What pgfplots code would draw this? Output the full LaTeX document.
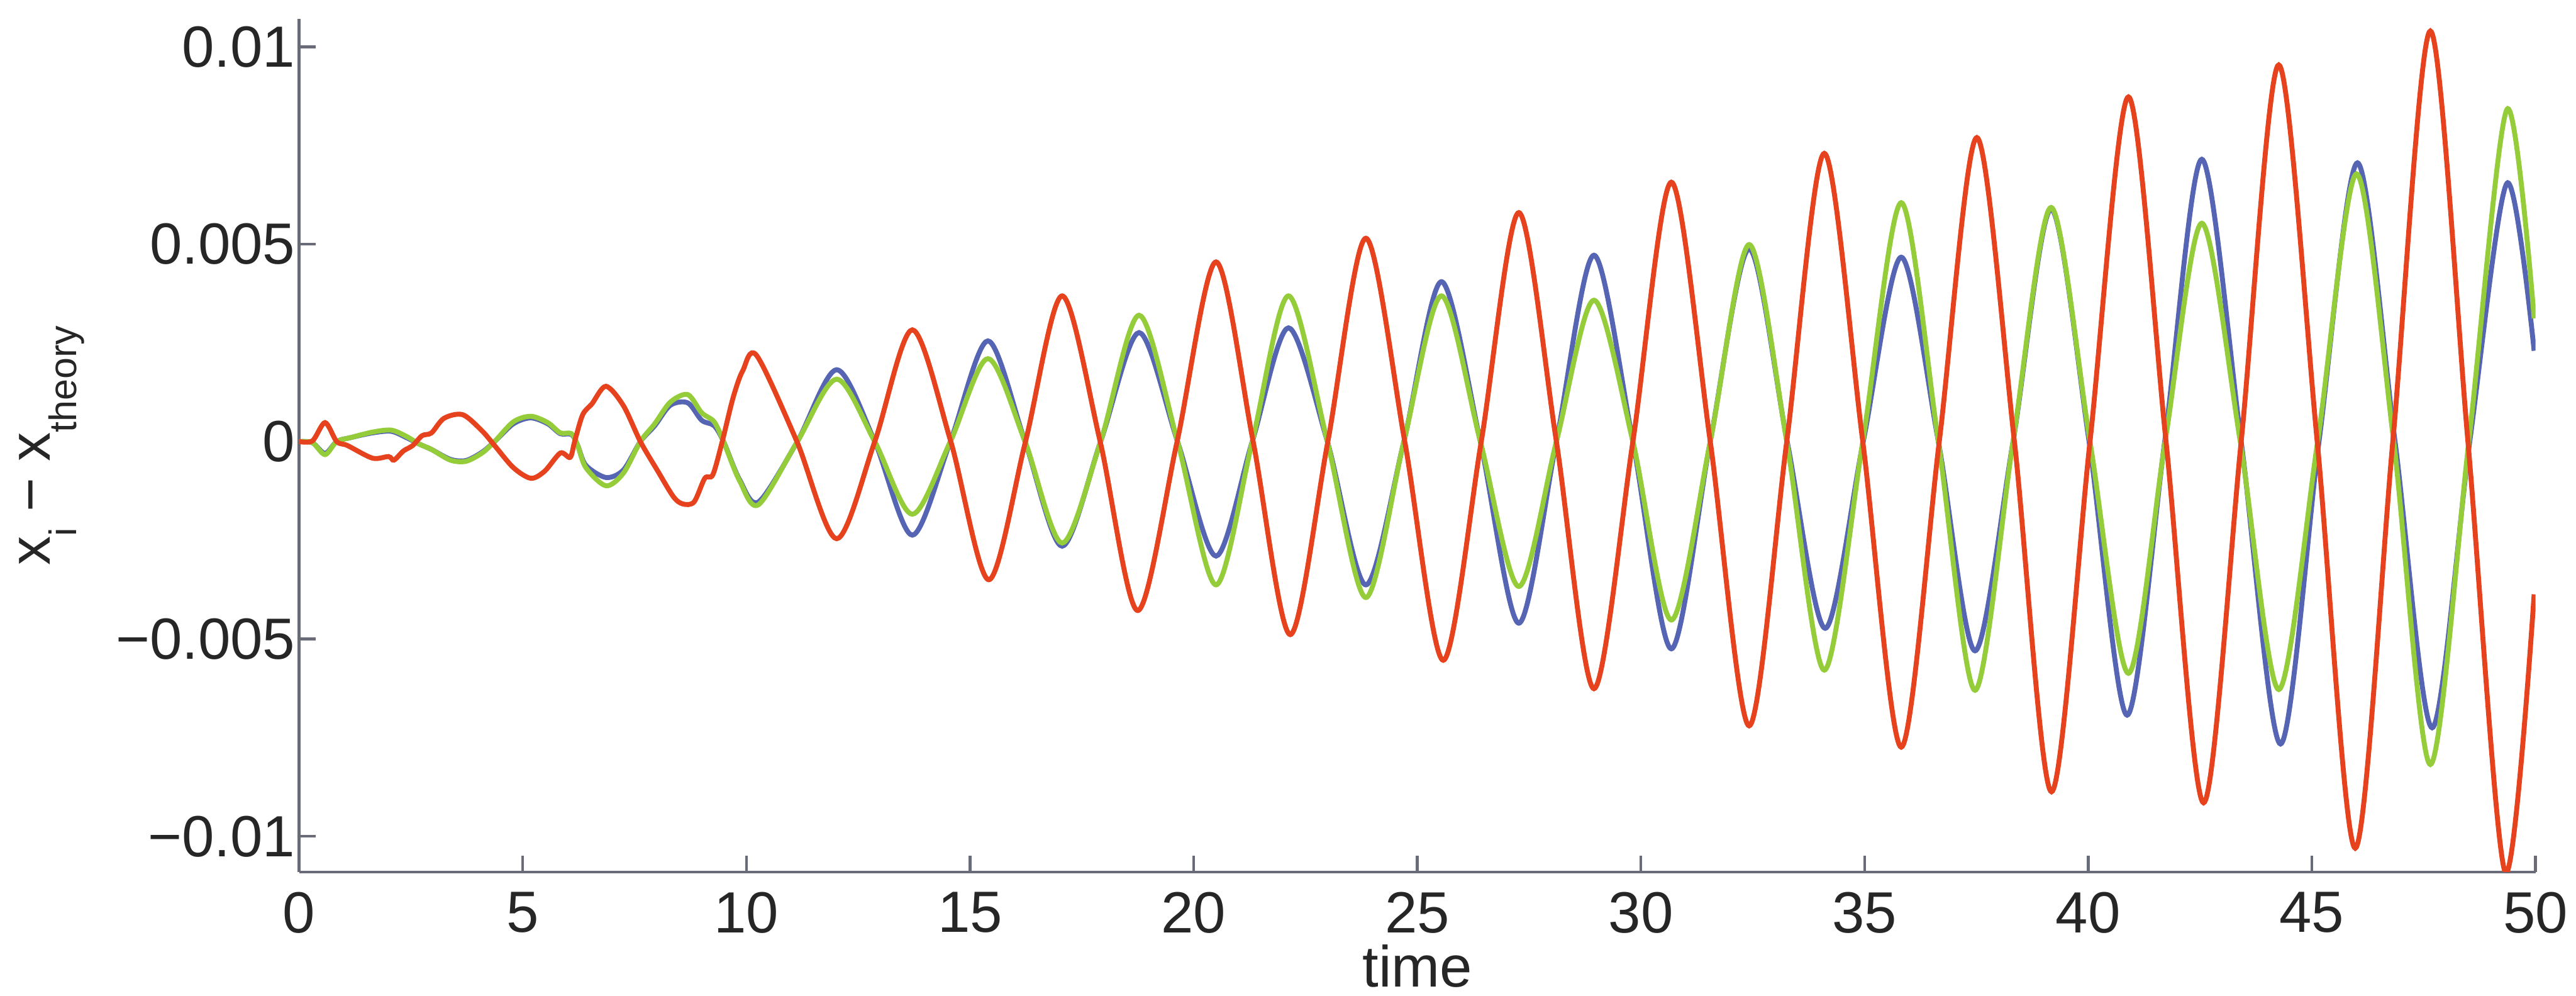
\documentclass[border=0pt]{standalone}
\usepackage{fontspec}
\setmainfont{Liberation Sans}
\usepackage{pgfplots}
\pgfplotsset{compat=1.18}
\definecolor{cred}{RGB}{230,66,30}
\definecolor{cblue}{RGB}{86,100,180}
\definecolor{cgreen}{RGB}{148,204,58}
\definecolor{axgray}{RGB}{105,108,120}
\newcommand{\sub}[1]{\raisebox{-0.45em}{\fontsize{7}{8}\selectfont #1}}
\begin{document}
\fontsize{10.6}{12.7}\selectfont
\begin{tikzpicture}
\begin{axis}[
  scale only axis, width=408pt, height=155.5pt,
  xmin=0, xmax=50, ymin=-0.0109, ymax=0.0107,
  axis lines*=left,
  axis line style={axgray, line width=0.5pt},
  tick align=inside,
  major tick length=3pt,
  tick style={axgray, line width=0.5pt},
  xtick={0,5,...,50},
  ytick={-0.01,-0.005,0,0.005,0.01},
  yticklabels={−0.01,−0.005,0,0.005,0.01},
  scaled y ticks=false,
  /pgf/number format/assume math mode=true,
  every tick label/.append style={font=\fontsize{10.6}{12.7}\selectfont, text=black!85},
  every axis label/.append style={font=\fontsize{10.6}{12.7}\selectfont, text=black!85},
  yticklabel style={xshift=3pt},
  xticklabel style={inner xsep=1.5pt},
  xlabel={time},
  ylabel={x\sub{i} − x\sub{theory}},
  xlabel style={inner ysep=1.5pt},
  xlabel shift=-3.2pt,
  ylabel shift=-1.5pt,
  every axis plot/.append style={line width=0.9pt, smooth, no markers},
  clip=true,
]
\addplot[cblue] coordinates {
(0,0) (0.3,-0.00003) (0.58,-0.0003) (0.84,0) (1.15,0.0001) (1.64,0.00022) (2.06,0.00026) (2.4,0.0001) (2.68,-0.00006) (2.96,-0.0002) (3.38,-0.00045) (3.73,-0.00048) (4.09,-0.00027) (4.37,0) (4.79,0.00045) (5.18,0.0006) (5.56,0.00045) (5.84,0.0002) (6.09,0.00018) (6.23,-0.0001) (6.41,-0.0006) (6.86,-0.00091) (7.25,-0.00072) (7.63,0) (7.95,0.0004) (8.3,0.00092) (8.69,0.00098) (9.0,0.00054) (9.28,0.0004) (9.49,0) (9.85,-0.00097) (10.27,-0.00153) (11.14,0) (12.02,0.00182) (12.87,0) (13.71,-0.00237) (14.56,0) (15.40,0.00255) (16.23,0) (17.06,-0.00265) (17.92,0) (18.78,0.00276) (19.64,0) (20.50,-0.0029) (21.31,0) (22.12,0.00288) (22.99,0) (23.85,-0.00363) (24.70,0) (25.54,0.00405) (26.41,0) (27.27,-0.0046) (28.11,0) (28.95,0.00472) (29.82,0) (30.68,-0.00525) (31.55,0) (32.42,0.00488) (33.27,0) (34.12,-0.00473) (34.97,0) (35.82,0.00467) (36.65,0) (37.47,-0.0053) (38.32,0) (39.17,0.00589) (40.02,0) (40.87,-0.00693) (41.71,0) (42.54,0.00715) (43.42,0) (44.30,-0.00766) (45.16,0) (46.02,0.00706) (46.86,0) (47.69,-0.00725) (48.53,0) (49.36,0.00654) (49.97,0.0023)
};
\addplot[cgreen] coordinates {
(0,0) (0.3,-0.00003) (0.58,-0.00033) (0.84,0) (1.15,0.0001) (1.64,0.00024) (2.06,0.00029) (2.4,0.00013) (2.68,-0.00006) (2.96,-0.0002) (3.38,-0.00047) (3.73,-0.0005) (4.09,-0.00029) (4.37,0) (4.79,0.0005) (5.18,0.00064) (5.56,0.00048) (5.84,0.00022) (6.09,0.0002) (6.23,-0.0001) (6.41,-0.00066) (6.86,-0.00112) (7.25,-0.0008) (7.63,0) (7.95,0.00045) (8.3,0.001) (8.69,0.00119) (9.0,0.00073) (9.28,0.0005) (9.49,0) (9.85,-0.001) (10.27,-0.0016) (11.14,0) (12.02,0.00158) (12.87,0) (13.71,-0.00184) (14.56,0) (15.40,0.0021) (16.23,0) (17.06,-0.00257) (17.92,0) (18.78,0.0032) (19.64,0) (20.50,-0.00363) (21.31,0) (22.12,0.00369) (22.99,0) (23.85,-0.00395) (24.70,0) (25.54,0.00369) (26.41,0) (27.27,-0.00367) (28.11,0) (28.95,0.00358) (29.82,0) (30.68,-0.00452) (31.55,0) (32.42,0.00499) (33.26,0) (34.10,-0.00579) (34.96,0) (35.82,0.00605) (36.65,0) (37.47,-0.0063) (38.32,0) (39.17,0.00593) (40.04,0) (40.90,-0.00587) (41.72,0) (42.54,0.00553) (43.40,0) (44.26,-0.00628) (45.13,0) (46.00,0.00678) (46.83,0) (47.65,-0.00818) (48.51,0) (49.36,0.00841) (49.97,0.00312)
};
\addplot[cred] coordinates {
(0,0) (0.3,0.00002) (0.58,0.00048) (0.84,0) (1.08,-0.0001) (1.64,-0.00042) (2.0,-0.00038) (2.12,-0.00047) (2.33,-0.00024) (2.54,-0.0001) (2.75,0.00015) (2.96,0.00022) (3.24,0.00059) (3.66,0.00068) (4.09,0.00027) (4.37,-0.0001) (4.79,-0.00066) (5.18,-0.00093) (5.49,-0.00075) (5.84,-0.00029) (6.06,-0.0004) (6.16,0) (6.34,0.00068) (6.55,0.00096) (6.86,0.0014) (7.25,0.00091) (7.63,0) (8.02,-0.00075) (8.37,-0.0014) (8.58,-0.00158) (8.83,-0.00153) (9.07,-0.00093) (9.25,-0.00084) (9.46,0) (9.7,0.0011) (9.92,0.0018) (10.23,0.00218) (11.13,0) (12.02,-0.00246) (12.87,0) (13.71,0.00283) (14.57,0) (15.42,-0.0035) (16.24,0) (17.06,0.00369) (17.91,0) (18.75,-0.00428) (19.63,0) (20.50,0.00455) (21.33,0) (22.16,-0.00489) (23.0,0) (23.85,0.00515) (24.72,0) (25.58,-0.00554) (26.43,0) (27.27,0.0058) (28.11,0) (28.95,-0.00626) (29.82,0) (30.68,0.00657) (31.55,0) (32.42,-0.0072) (33.26,0) (34.10,0.0073) (34.96,0) (35.82,-0.00774) (36.67,0) (37.51,0.0077) (38.35,0) (39.18,-0.00887) (40.04,0) (40.90,0.00873) (41.74,0) (42.58,-0.00915) (43.42,0) (44.26,0.00954) (45.12,0) (45.97,-0.0103) (46.81,0) (47.65,0.0104) (48.49,0) (49.32,-0.0109) (49.97,-0.00387)
};
\end{axis}
\path (current axis.north west) ++(0,3.5pt);
\end{tikzpicture}
\end{document}
